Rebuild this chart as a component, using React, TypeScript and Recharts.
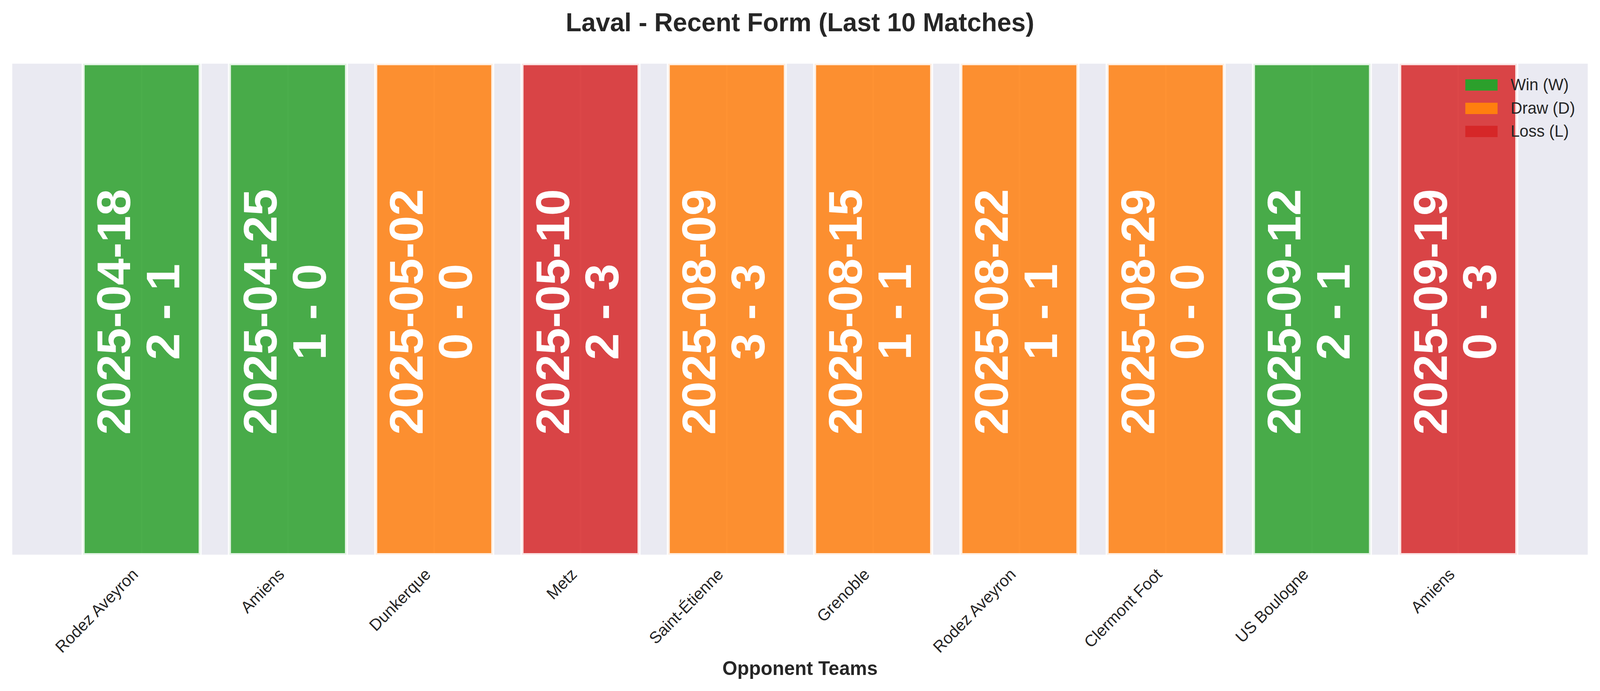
import React from "react";
import {
	BarChart,
	Bar,
	XAxis,
	YAxis,
	CartesianGrid,
	Cell,
	LabelList,
	Legend,
} from "recharts";

const teams = [
	"Rodez Aveyron",
	"Amiens",
	"Dunkerque",
	"Metz",
	"Saint-Étienne",
	"Grenoble",
	"Rodez Aveyron",
	"Clermont Foot",
	"US Boulogne",
	"Amiens",
];
const dates = [
	"2025-04-18",
	"2025-04-25",
	"2025-05-02",
	"2025-05-10",
	"2025-08-09",
	"2025-08-15",
	"2025-08-22",
	"2025-08-29",
	"2025-09-12",
	"2025-09-19",
];
const scores = ["2 - 1", "1 - 0", "0 - 0", "2 - 3", "3 - 3", "1 - 1", "1 - 1", "0 - 0", "2 - 1", "0 - 3"];
const results = ["W", "W", "D", "L", "D", "D", "D", "D", "W", "L"];

const resultColors: Record<string, string> = { W: "#2ca02c", D: "#ff7f0e", L: "#d62728" };
const legendItems = [
	{ key: "W", label: "Win (W)" },
	{ key: "D", label: "Draw (D)" },
	{ key: "L", label: "Loss (L)" },
];

const FONT = '"Liberation Sans", Arial, sans-serif';
const TEXT = "#262626";
const W = 4170;
const H = 1769;

const chartData = teams.map((team, i) => ({
	pos: i,
	team,
	date: dates[i],
	score: scores[i],
	result: results[i],
	value: 1,
}));

function TeamTick(props: any) {
	const { x, y, payload } = props;
	const name = teams[payload.value] ?? "";
	const ax = x - 7;
	const ay = y + 53;
	return (
		<text
			x={ax}
			y={ay}
			transform={`rotate(-45, ${ax}, ${ay})`}
			textAnchor="end"
			fontFamily={FONT}
			fontSize={42}
			fill={TEXT}
		>
			{name}
		</text>
	);
}

function MatchLabel(props: any) {
	const vb = props.viewBox ?? props;
	const x = Number(vb.x ?? props.x);
	const y = Number(vb.y ?? props.y);
	const w = Number(vb.width ?? props.width);
	const h = Number(vb.height ?? props.height);
	const i = props.index ?? 0;
	const cx = x + w / 2;
	const cy = y + h / 2 + 7;
	const dx1 = cx - 30;
	const dx2 = cx + 98.5;
	const common = {
		textAnchor: "middle" as const,
		fontFamily: FONT,
		fontSize: 123,
		fontWeight: 700,
		fill: "#ffffff",
	};
	return (
		<g>
			<text x={dx1} y={cy} transform={`rotate(-90, ${dx1}, ${cy})`} {...common}>
				{dates[i]}
			</text>
			<text x={dx2} y={cy} transform={`rotate(-90, ${dx2}, ${cy})`} {...common}>
				{scores[i]}
			</text>
		</g>
	);
}

function FormLegend() {
	return (
		<div style={{ position: "relative", width: 320, height: 180, fontFamily: FONT }}>
			{legendItems.map((item, i) => (
				<div key={item.key} style={{ position: "absolute", left: 0, top: i * 59.5, width: 320, height: 40 }}>
					<div
						style={{
							position: "absolute",
							left: 0,
							top: 0,
							width: 84,
							height: 29,
							background: resultColors[item.key],
						}}
					/>
					<div
						style={{
							position: "absolute",
							left: 118,
							top: -6.6,
							fontSize: 42,
							lineHeight: "42px",
							color: TEXT,
							whiteSpace: "nowrap",
						}}
					>
						{item.label}
					</div>
				</div>
			))}
		</div>
	);
}

export default function App() {
	// the browser viewport may be narrower than the target picture; fit the design into it
	const sx = typeof window !== "undefined" ? Math.min(1, window.innerWidth / W) : 1;
	const sy = typeof window !== "undefined" ? Math.min(1, window.innerHeight / H) : 1;
	return (
		<div
			style={{
				position: "absolute",
				left: 0,
				top: 0,
				width: W,
				height: H,
				background: "#ffffff",
				fontFamily: FONT,
				transform: `scale(${sx}, ${sy})`,
				transformOrigin: "0 0",
			}}
		>
			<BarChart
				width={W}
				height={H}
				data={chartData}
				margin={{ top: 163, right: 30, bottom: 49, left: 30 }}
				style={{ position: "absolute", left: 0, top: 0 }}
			>
				<CartesianGrid horizontal={false} stroke="#ffffff" strokeWidth={4} fill="#eaeaf2" fillOpacity={1} />
				<XAxis
					dataKey="pos"
					type="number"
					domain={[-0.89, 9.89]}
					ticks={[0, 1, 2, 3, 4, 5, 6, 7, 8, 9]}
					interval={0}
					allowDataOverflow
					height={300}
					tickLine={false}
					axisLine={false}
					tickSize={0}
					tickMargin={0}
					tick={<TeamTick />}
				/>
				<YAxis hide type="number" domain={[0, 1]} />
				<Legend
					layout="horizontal"
					align="center"
					verticalAlign="middle"
					content={() => <FormLegend />}
					wrapperStyle={{ left: 3819, top: 203, width: 320, height: 180 }}
				/>
				<Bar
					dataKey="value"
					barSize={305}
					fillOpacity={0.85}
					stroke="#ffffff"
					strokeOpacity={0.85}
					strokeWidth={8}
					isAnimationActive={false}
				>
					{chartData.map((d, i) => (
						<Cell key={i} fill={resultColors[d.result]} />
					))}
					<LabelList dataKey="date" content={<MatchLabel />} />
				</Bar>
			</BarChart>
			<svg width={W} height={H} style={{ position: "absolute", left: 0, top: 0, pointerEvents: "none" }}>
				<text x={2085} y={80} textAnchor="middle" fontFamily={FONT} fontSize={67} fontWeight={700} fill={TEXT}>
					Laval - Recent Form (Last 10 Matches)
				</text>
				<text x={2085} y={1728} textAnchor="middle" fontFamily={FONT} fontSize={50} fontWeight={700} fill={TEXT}>
					Opponent Teams
				</text>
			</svg>
		</div>
	);
}
